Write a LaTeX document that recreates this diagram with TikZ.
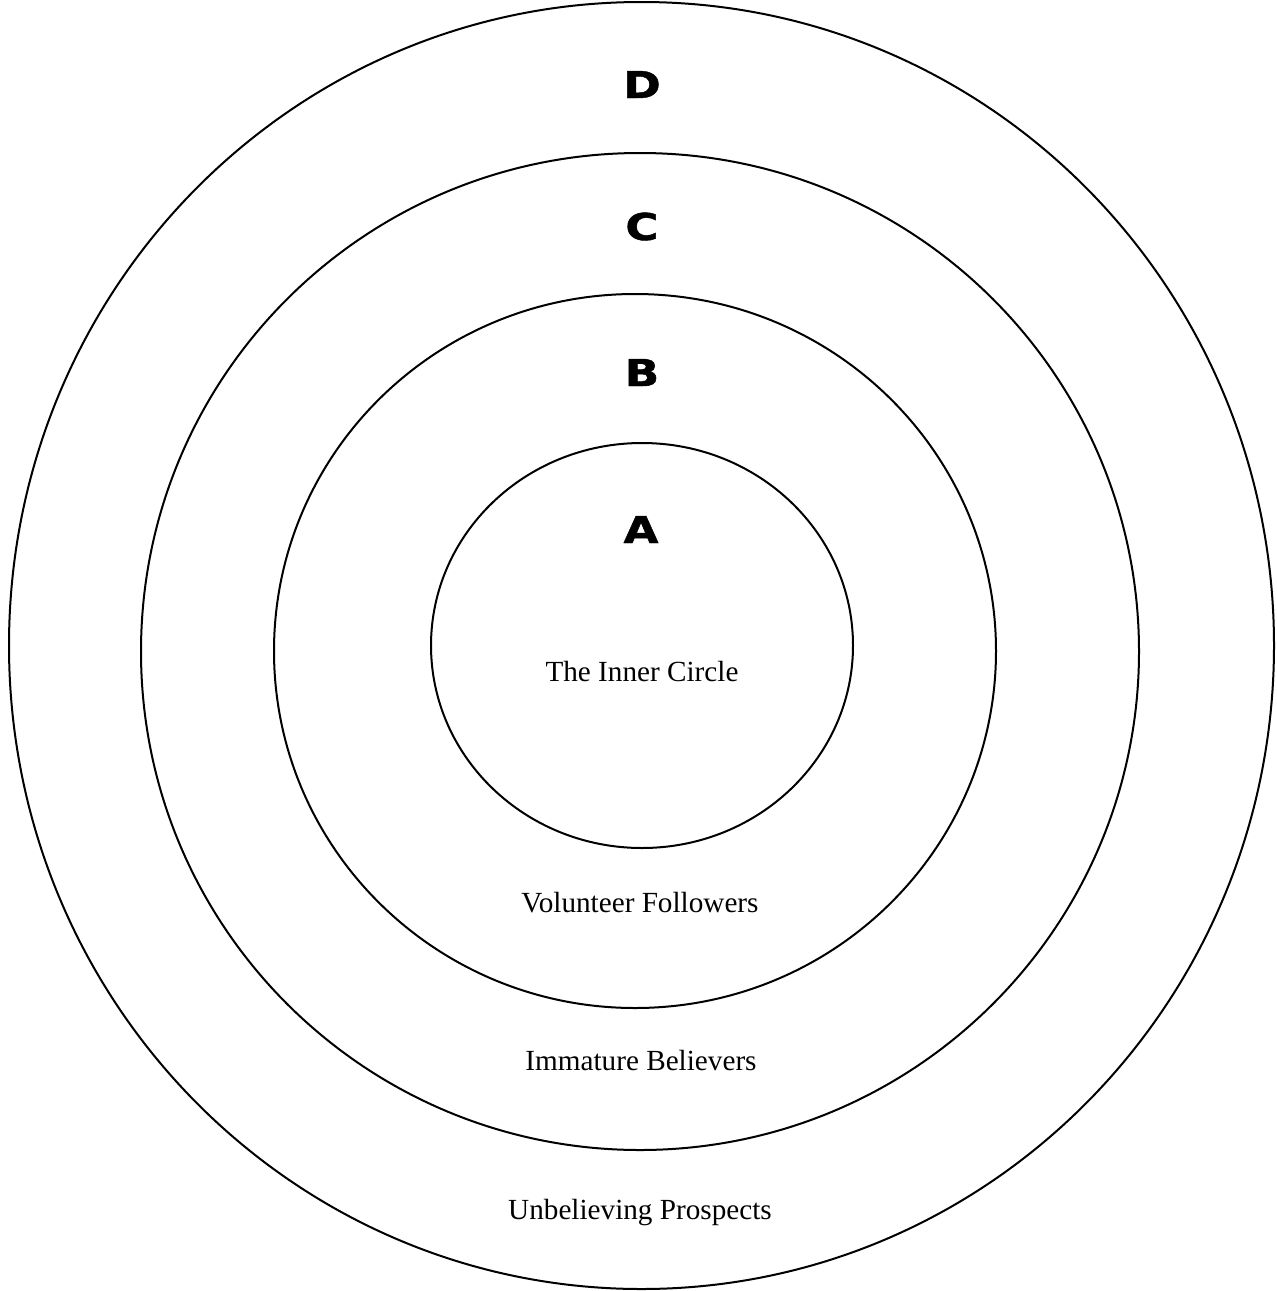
\documentclass[tikz,border=0pt]{standalone}
\usepackage{fontspec}
\setmainfont{Liberation Serif}
\newfontfamily\ringfont{DejaVu Sans Bold}[FakeBold=1.2]
\begin{document}
\begin{tikzpicture}[x=0.5pt,y=-0.5pt,
  ring/.style={draw=black,line width=1pt},
  ringletter/.style={font=\ringfont\fontsize{18.5}{20}\selectfont,inner sep=0pt,anchor=base},
  ringname/.style={font=\fontsize{14.6}{17}\selectfont,inner sep=0pt,anchor=base}]
  \useasboundingbox (0,0) rectangle (1277,1291);
  % four nested rings, outermost first
  \draw[ring] (641.5,645.5) ellipse [x radius=632.5, y radius=643.5];
  \draw[ring] (640,651.5) ellipse [x radius=499, y radius=498.5];
  \draw[ring] (635,651) ellipse [x radius=361, y radius=357];
  \draw[ring] (642,645.5) ellipse [x radius=211, y radius=202.5];
  % ring letters
  \node[ringletter] (ld) at (642,98) {\scalebox{1.22}[1]{D}};
  \node[ringletter] (lc) at (642,240) {\scalebox{1.22}[1]{C}};
  \node[ringletter] (lb) at (642,386) {\scalebox{1.22}[1]{B}};
  \node[ringletter] (la) at (641,543) {\scalebox{1.22}[1]{A}};
  % ring names
  \node[ringname] (na) at (642,681) {The Inner Circle};
  \node[ringname] (nb) at (640,912) {Volunteer Followers};
  \node[ringname] (nc) at (641,1070) {Immature Believers};
  \node[ringname] (nd) at (640,1219) {Unbelieving Prospects};
\end{tikzpicture}
\end{document}
